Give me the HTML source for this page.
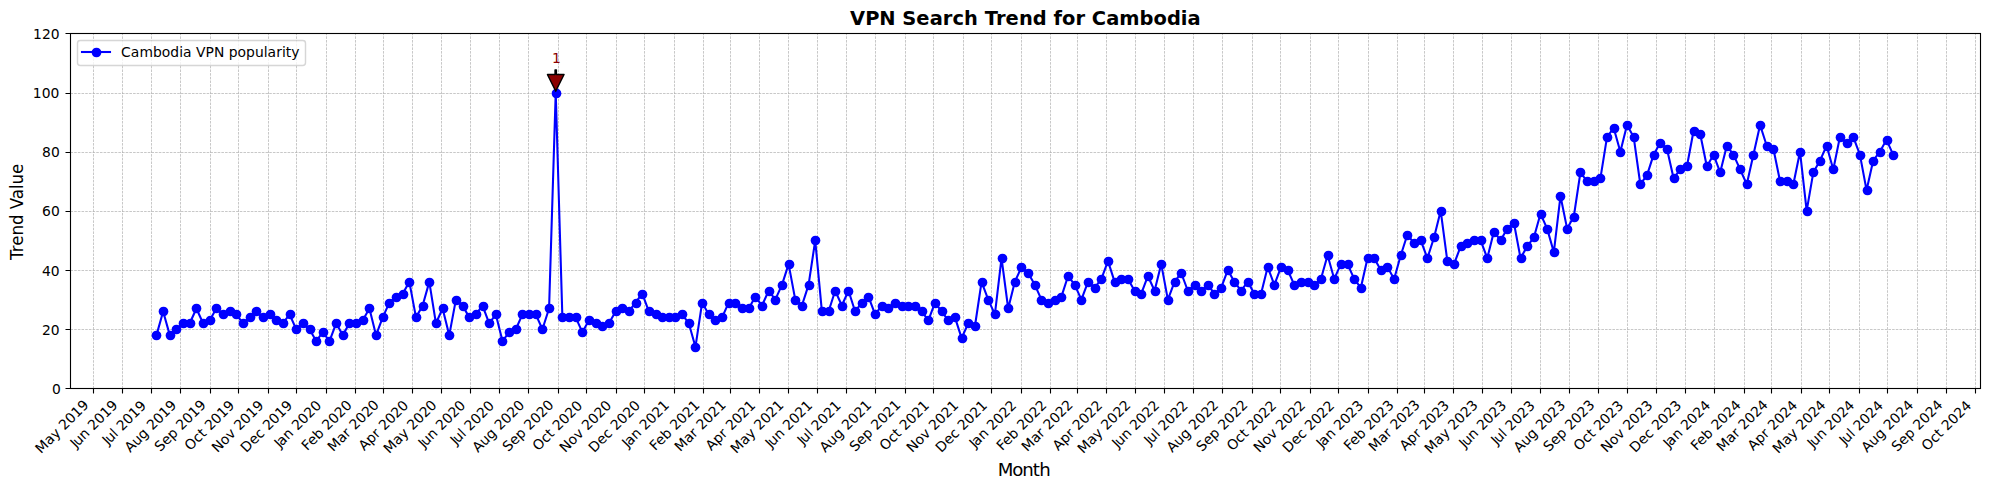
<!DOCTYPE html>
<html lang="en"><head><meta charset="utf-8"><title>VPN Search Trend for Cambodia</title>
<style>html,body{margin:0;padding:0;background:#fff}body{width:1990px;height:490px;overflow:hidden}svg{display:block}</style>
</head><body>
<svg width="1990" height="490" viewBox="0 0 1990 490">
<rect width="1990" height="490" fill="#fff"/>
<defs><clipPath id="c"><rect x="69.653" y="33.333" width="1910.347" height="355.053"/></clipPath></defs>
<g clip-path="url(#c)"><path d="M93.5 388.5V33.5M122.5 388.5V33.5M151.5 388.5V33.5M180.5 388.5V33.5M210.5 388.5V33.5M238.5 388.5V33.5M268.5 388.5V33.5M296.5 388.5V33.5M326.5 388.5V33.5M355.5 388.5V33.5M383.5 388.5V33.5M412.5 388.5V33.5M441.5 388.5V33.5M470.5 388.5V33.5M499.5 388.5V33.5M528.5 388.5V33.5M558.5 388.5V33.5M586.5 388.5V33.5M616.5 388.5V33.5M644.5 388.5V33.5M674.5 388.5V33.5M703.5 388.5V33.5M730.5 388.5V33.5M759.5 388.5V33.5M788.5 388.5V33.5M817.5 388.5V33.5M846.5 388.5V33.5M875.5 388.5V33.5M905.5 388.5V33.5M933.5 388.5V33.5M963.5 388.5V33.5M991.5 388.5V33.5M1021.5 388.5V33.5M1050.5 388.5V33.5M1077.5 388.5V33.5M1106.5 388.5V33.5M1135.5 388.5V33.5M1164.5 388.5V33.5M1193.5 388.5V33.5M1222.5 388.5V33.5M1252.5 388.5V33.5M1280.5 388.5V33.5M1310.5 388.5V33.5M1338.5 388.5V33.5M1368.5 388.5V33.5M1397.5 388.5V33.5M1424.5 388.5V33.5M1453.5 388.5V33.5M1482.5 388.5V33.5M1511.5 388.5V33.5M1540.5 388.5V33.5M1569.5 388.5V33.5M1598.5 388.5V33.5M1627.5 388.5V33.5M1656.5 388.5V33.5M1685.5 388.5V33.5M1714.5 388.5V33.5M1744.5 388.5V33.5M1771.5 388.5V33.5M1801.5 388.5V33.5M1829.5 388.5V33.5M1859.5 388.5V33.5M1887.5 388.5V33.5M1917.5 388.5V33.5M1946.5 388.5V33.5M1975.5 388.5V33.5" fill="none" stroke="#b0b0b0" stroke-width="0.694" stroke-dasharray="2.569 1.111"/>
<path d="M70.5 388.5H1980.5M70.5 329.5H1980.5M70.5 270.5H1980.5M70.5 211.5H1980.5M70.5 152.5H1980.5M70.5 93.5H1980.5M70.5 33.5H1980.5" fill="none" stroke="#b0b0b0" stroke-width="0.694" stroke-dasharray="2.569 1.111"/></g>
<path d="M93.5 388.5v5M122.5 388.5v5M151.5 388.5v5M180.5 388.5v5M210.5 388.5v5M238.5 388.5v5M268.5 388.5v5M296.5 388.5v5M326.5 388.5v5M355.5 388.5v5M383.5 388.5v5M412.5 388.5v5M441.5 388.5v5M470.5 388.5v5M499.5 388.5v5M528.5 388.5v5M558.5 388.5v5M586.5 388.5v5M616.5 388.5v5M644.5 388.5v5M674.5 388.5v5M703.5 388.5v5M730.5 388.5v5M759.5 388.5v5M788.5 388.5v5M817.5 388.5v5M846.5 388.5v5M875.5 388.5v5M905.5 388.5v5M933.5 388.5v5M963.5 388.5v5M991.5 388.5v5M1021.5 388.5v5M1050.5 388.5v5M1077.5 388.5v5M1106.5 388.5v5M1135.5 388.5v5M1164.5 388.5v5M1193.5 388.5v5M1222.5 388.5v5M1252.5 388.5v5M1280.5 388.5v5M1310.5 388.5v5M1338.5 388.5v5M1368.5 388.5v5M1397.5 388.5v5M1424.5 388.5v5M1453.5 388.5v5M1482.5 388.5v5M1511.5 388.5v5M1540.5 388.5v5M1569.5 388.5v5M1598.5 388.5v5M1627.5 388.5v5M1656.5 388.5v5M1685.5 388.5v5M1714.5 388.5v5M1744.5 388.5v5M1771.5 388.5v5M1801.5 388.5v5M1829.5 388.5v5M1859.5 388.5v5M1887.5 388.5v5M1917.5 388.5v5M1946.5 388.5v5M1975.5 388.5v5M70.5 388.5h-5M70.5 329.5h-5M70.5 270.5h-5M70.5 211.5h-5M70.5 152.5h-5M70.5 93.5h-5M70.5 33.5h-5" fill="none" stroke="#000" stroke-width="1.111"/>
<g clip-path="url(#c)"><path d="M156.487 335.128 L163.141 311.458 L169.795 335.128 L183.103 323.293 L189.756 323.293 L196.41 308.499 L203.064 323.293 L209.718 320.334 L216.372 308.499 L223.026 314.417 L229.68 311.458 L236.334 314.417 L242.988 323.293 L256.296 311.458 L262.95 317.375 L269.604 314.417 L276.258 320.334 L282.912 323.293 L289.566 314.417 L296.22 329.21 L302.874 323.293 L309.527 329.21 L316.181 341.046 L322.835 332.169 L329.489 341.046 L336.143 323.293 L342.797 335.128 L349.451 323.293 L356.105 323.293 L362.759 320.334 L369.413 308.499 L376.067 335.128 L382.721 317.375 L389.375 302.582 L396.029 296.664 L402.683 293.705 L409.337 281.87 L415.991 317.375 L422.644 305.54 L429.298 281.87 L435.952 323.293 L442.606 308.499 L449.26 335.128 L455.914 299.623 L462.568 305.54 L469.222 317.375 L475.876 314.417 L482.53 305.54 L489.184 323.293 L495.838 314.417 L502.492 341.046 L509.146 332.169 L515.8 329.21 L522.454 314.417 L535.762 314.417 L542.415 329.21 L549.069 308.499 L555.723 92.509 L562.377 317.375 L575.685 317.375 L582.339 332.169 L588.993 320.334 L602.301 326.252 L608.955 323.293 L615.609 311.458 L622.263 308.499 L628.917 311.458 L642.225 293.705 L648.879 311.458 L662.186 317.375 L675.494 317.375 L682.148 314.417 L688.802 323.293 L695.456 346.963 L702.11 302.582 L708.764 314.417 L715.418 320.334 L722.072 317.375 L728.726 302.582 L735.38 302.582 L742.034 308.499 L748.688 308.499 L755.342 296.664 L761.996 305.54 L768.65 290.746 L775.304 299.623 L781.957 284.829 L788.611 264.118 L795.265 299.623 L801.919 305.54 L808.573 284.829 L815.227 240.447 L821.881 311.458 L828.535 311.458 L835.189 290.746 L841.843 305.54 L848.497 290.746 L855.151 311.458 L861.805 302.582 L868.459 296.664 L875.113 314.417 L881.767 305.54 L888.421 308.499 L895.074 302.582 L901.728 305.54 L915.036 305.54 L921.69 311.458 L928.344 320.334 L934.998 302.582 L948.306 320.334 L954.96 317.375 L961.614 338.087 L968.268 323.293 L974.922 326.252 L981.576 281.87 L988.23 299.623 L994.884 314.417 L1001.538 258.2 L1008.192 308.499 L1014.845 281.87 L1021.499 267.076 L1028.153 272.994 L1034.807 284.829 L1041.461 299.623 L1048.115 302.582 L1061.423 296.664 L1068.077 275.953 L1074.731 284.829 L1081.385 299.623 L1088.039 281.87 L1094.693 287.788 L1101.347 278.911 L1108.001 261.159 L1114.655 281.87 L1121.309 278.911 L1127.963 278.911 L1134.616 290.746 L1141.27 293.705 L1147.924 275.953 L1154.578 290.746 L1161.232 264.118 L1167.886 299.623 L1174.54 281.87 L1181.194 272.994 L1187.848 290.746 L1194.502 284.829 L1201.156 290.746 L1207.81 284.829 L1214.464 293.705 L1221.118 287.788 L1227.772 270.035 L1234.426 281.87 L1241.08 290.746 L1247.734 281.87 L1254.387 293.705 L1261.041 293.705 L1267.695 267.076 L1274.349 284.829 L1281.003 267.076 L1287.657 270.035 L1294.311 284.829 L1300.965 281.87 L1307.619 281.87 L1314.273 284.829 L1320.927 278.911 L1327.581 255.241 L1334.235 278.911 L1340.889 264.118 L1347.543 264.118 L1354.197 278.911 L1360.851 287.788 L1367.504 258.2 L1374.158 258.2 L1380.812 270.035 L1387.466 267.076 L1394.12 278.911 L1400.774 255.241 L1407.428 234.53 L1414.082 243.406 L1420.736 240.447 L1427.39 258.2 L1434.044 237.489 L1440.698 210.86 L1447.352 261.159 L1454.006 264.118 L1460.66 246.365 L1473.968 240.447 L1480.622 240.447 L1487.275 258.2 L1493.929 231.571 L1500.583 240.447 L1507.237 228.612 L1513.891 222.695 L1520.545 258.2 L1527.199 246.365 L1533.853 237.489 L1540.507 213.818 L1547.161 228.612 L1553.815 252.282 L1560.469 196.066 L1567.123 228.612 L1573.777 216.777 L1580.431 172.396 L1587.085 181.272 L1593.739 181.272 L1600.393 178.313 L1607.046 136.89 L1613.7 128.014 L1620.354 151.684 L1627.008 125.055 L1633.662 136.89 L1640.316 184.231 L1646.97 175.354 L1653.624 154.643 L1660.278 142.808 L1666.932 148.725 L1673.586 178.313 L1680.24 169.437 L1686.894 166.478 L1693.548 130.973 L1700.202 133.932 L1706.856 166.478 L1713.51 154.643 L1720.164 172.396 L1726.817 145.767 L1733.471 154.643 L1746.779 184.231 L1760.087 125.055 L1766.741 145.767 L1773.395 148.725 L1780.049 181.272 L1786.703 181.272 L1793.357 184.231 L1800.011 151.684 L1806.665 210.86 L1813.319 172.396 L1819.973 160.561 L1826.627 145.767 L1833.281 169.437 L1839.934 136.89 L1846.588 142.808 L1853.242 136.89 L1859.896 154.643 L1866.55 190.148 L1873.204 160.561 L1879.858 151.684 L1886.512 139.849 L1893.166 154.643 L1893.166 154.643" fill="none" stroke="#00f" stroke-width="2.083" stroke-linejoin="round" stroke-linecap="square"/>
<g fill="#00f"><circle cx="156.5" cy="335.5" r="4.861"/><circle cx="163.5" cy="311.5" r="4.861"/><circle cx="170.5" cy="335.5" r="4.861"/><circle cx="176.5" cy="329.5" r="4.861"/><circle cx="183.5" cy="323.5" r="4.861"/><circle cx="190.5" cy="323.5" r="4.861"/><circle cx="196.5" cy="308.5" r="4.861"/><circle cx="203.5" cy="323.5" r="4.861"/><circle cx="210.5" cy="320.5" r="4.861"/><circle cx="216.5" cy="308.5" r="4.861"/><circle cx="223.5" cy="314.5" r="4.861"/><circle cx="230.5" cy="311.5" r="4.861"/><circle cx="236.5" cy="314.5" r="4.861"/><circle cx="243.5" cy="323.5" r="4.861"/><circle cx="250.5" cy="317.5" r="4.861"/><circle cx="256.5" cy="311.5" r="4.861"/><circle cx="263.5" cy="317.5" r="4.861"/><circle cx="270.5" cy="314.5" r="4.861"/><circle cx="276.5" cy="320.5" r="4.861"/><circle cx="283.5" cy="323.5" r="4.861"/><circle cx="290.5" cy="314.5" r="4.861"/><circle cx="296.5" cy="329.5" r="4.861"/><circle cx="303.5" cy="323.5" r="4.861"/><circle cx="310.5" cy="329.5" r="4.861"/><circle cx="316.5" cy="341.5" r="4.861"/><circle cx="323.5" cy="332.5" r="4.861"/><circle cx="329.5" cy="341.5" r="4.861"/><circle cx="336.5" cy="323.5" r="4.861"/><circle cx="343.5" cy="335.5" r="4.861"/><circle cx="349.5" cy="323.5" r="4.861"/><circle cx="356.5" cy="323.5" r="4.861"/><circle cx="363.5" cy="320.5" r="4.861"/><circle cx="369.5" cy="308.5" r="4.861"/><circle cx="376.5" cy="335.5" r="4.861"/><circle cx="383.5" cy="317.5" r="4.861"/><circle cx="389.5" cy="303.5" r="4.861"/><circle cx="396.5" cy="297.5" r="4.861"/><circle cx="403.5" cy="294.5" r="4.861"/><circle cx="409.5" cy="282.5" r="4.861"/><circle cx="416.5" cy="317.5" r="4.861"/><circle cx="423.5" cy="306.5" r="4.861"/><circle cx="429.5" cy="282.5" r="4.861"/><circle cx="436.5" cy="323.5" r="4.861"/><circle cx="443.5" cy="308.5" r="4.861"/><circle cx="449.5" cy="335.5" r="4.861"/><circle cx="456.5" cy="300.5" r="4.861"/><circle cx="463.5" cy="306.5" r="4.861"/><circle cx="469.5" cy="317.5" r="4.861"/><circle cx="476.5" cy="314.5" r="4.861"/><circle cx="483.5" cy="306.5" r="4.861"/><circle cx="489.5" cy="323.5" r="4.861"/><circle cx="496.5" cy="314.5" r="4.861"/><circle cx="502.5" cy="341.5" r="4.861"/><circle cx="509.5" cy="332.5" r="4.861"/><circle cx="516.5" cy="329.5" r="4.861"/><circle cx="522.5" cy="314.5" r="4.861"/><circle cx="529.5" cy="314.5" r="4.861"/><circle cx="536.5" cy="314.5" r="4.861"/><circle cx="542.5" cy="329.5" r="4.861"/><circle cx="549.5" cy="308.5" r="4.861"/><circle cx="556.5" cy="93.5" r="4.861"/><circle cx="562.5" cy="317.5" r="4.861"/><circle cx="569.5" cy="317.5" r="4.861"/><circle cx="576.5" cy="317.5" r="4.861"/><circle cx="582.5" cy="332.5" r="4.861"/><circle cx="589.5" cy="320.5" r="4.861"/><circle cx="596.5" cy="323.5" r="4.861"/><circle cx="602.5" cy="326.5" r="4.861"/><circle cx="609.5" cy="323.5" r="4.861"/><circle cx="616.5" cy="311.5" r="4.861"/><circle cx="622.5" cy="308.5" r="4.861"/><circle cx="629.5" cy="311.5" r="4.861"/><circle cx="636.5" cy="303.5" r="4.861"/><circle cx="642.5" cy="294.5" r="4.861"/><circle cx="649.5" cy="311.5" r="4.861"/><circle cx="656.5" cy="314.5" r="4.861"/><circle cx="662.5" cy="317.5" r="4.861"/><circle cx="669.5" cy="317.5" r="4.861"/><circle cx="675.5" cy="317.5" r="4.861"/><circle cx="682.5" cy="314.5" r="4.861"/><circle cx="689.5" cy="323.5" r="4.861"/><circle cx="695.5" cy="347.5" r="4.861"/><circle cx="702.5" cy="303.5" r="4.861"/><circle cx="709.5" cy="314.5" r="4.861"/><circle cx="715.5" cy="320.5" r="4.861"/><circle cx="722.5" cy="317.5" r="4.861"/><circle cx="729.5" cy="303.5" r="4.861"/><circle cx="735.5" cy="303.5" r="4.861"/><circle cx="742.5" cy="308.5" r="4.861"/><circle cx="749.5" cy="308.5" r="4.861"/><circle cx="755.5" cy="297.5" r="4.861"/><circle cx="762.5" cy="306.5" r="4.861"/><circle cx="769.5" cy="291.5" r="4.861"/><circle cx="775.5" cy="300.5" r="4.861"/><circle cx="782.5" cy="285.5" r="4.861"/><circle cx="789.5" cy="264.5" r="4.861"/><circle cx="795.5" cy="300.5" r="4.861"/><circle cx="802.5" cy="306.5" r="4.861"/><circle cx="809.5" cy="285.5" r="4.861"/><circle cx="815.5" cy="240.5" r="4.861"/><circle cx="822.5" cy="311.5" r="4.861"/><circle cx="829.5" cy="311.5" r="4.861"/><circle cx="835.5" cy="291.5" r="4.861"/><circle cx="842.5" cy="306.5" r="4.861"/><circle cx="848.5" cy="291.5" r="4.861"/><circle cx="855.5" cy="311.5" r="4.861"/><circle cx="862.5" cy="303.5" r="4.861"/><circle cx="868.5" cy="297.5" r="4.861"/><circle cx="875.5" cy="314.5" r="4.861"/><circle cx="882.5" cy="306.5" r="4.861"/><circle cx="888.5" cy="308.5" r="4.861"/><circle cx="895.5" cy="303.5" r="4.861"/><circle cx="902.5" cy="306.5" r="4.861"/><circle cx="908.5" cy="306.5" r="4.861"/><circle cx="915.5" cy="306.5" r="4.861"/><circle cx="922.5" cy="311.5" r="4.861"/><circle cx="928.5" cy="320.5" r="4.861"/><circle cx="935.5" cy="303.5" r="4.861"/><circle cx="942.5" cy="311.5" r="4.861"/><circle cx="948.5" cy="320.5" r="4.861"/><circle cx="955.5" cy="317.5" r="4.861"/><circle cx="962.5" cy="338.5" r="4.861"/><circle cx="968.5" cy="323.5" r="4.861"/><circle cx="975.5" cy="326.5" r="4.861"/><circle cx="982.5" cy="282.5" r="4.861"/><circle cx="988.5" cy="300.5" r="4.861"/><circle cx="995.5" cy="314.5" r="4.861"/><circle cx="1002.5" cy="258.5" r="4.861"/><circle cx="1008.5" cy="308.5" r="4.861"/><circle cx="1015.5" cy="282.5" r="4.861"/><circle cx="1021.5" cy="267.5" r="4.861"/><circle cx="1028.5" cy="273.5" r="4.861"/><circle cx="1035.5" cy="285.5" r="4.861"/><circle cx="1041.5" cy="300.5" r="4.861"/><circle cx="1048.5" cy="303.5" r="4.861"/><circle cx="1055.5" cy="300.5" r="4.861"/><circle cx="1061.5" cy="297.5" r="4.861"/><circle cx="1068.5" cy="276.5" r="4.861"/><circle cx="1075.5" cy="285.5" r="4.861"/><circle cx="1081.5" cy="300.5" r="4.861"/><circle cx="1088.5" cy="282.5" r="4.861"/><circle cx="1095.5" cy="288.5" r="4.861"/><circle cx="1101.5" cy="279.5" r="4.861"/><circle cx="1108.5" cy="261.5" r="4.861"/><circle cx="1115.5" cy="282.5" r="4.861"/><circle cx="1121.5" cy="279.5" r="4.861"/><circle cx="1128.5" cy="279.5" r="4.861"/><circle cx="1135.5" cy="291.5" r="4.861"/><circle cx="1141.5" cy="294.5" r="4.861"/><circle cx="1148.5" cy="276.5" r="4.861"/><circle cx="1155.5" cy="291.5" r="4.861"/><circle cx="1161.5" cy="264.5" r="4.861"/><circle cx="1168.5" cy="300.5" r="4.861"/><circle cx="1175.5" cy="282.5" r="4.861"/><circle cx="1181.5" cy="273.5" r="4.861"/><circle cx="1188.5" cy="291.5" r="4.861"/><circle cx="1195.5" cy="285.5" r="4.861"/><circle cx="1201.5" cy="291.5" r="4.861"/><circle cx="1208.5" cy="285.5" r="4.861"/><circle cx="1214.5" cy="294.5" r="4.861"/><circle cx="1221.5" cy="288.5" r="4.861"/><circle cx="1228.5" cy="270.5" r="4.861"/><circle cx="1234.5" cy="282.5" r="4.861"/><circle cx="1241.5" cy="291.5" r="4.861"/><circle cx="1248.5" cy="282.5" r="4.861"/><circle cx="1254.5" cy="294.5" r="4.861"/><circle cx="1261.5" cy="294.5" r="4.861"/><circle cx="1268.5" cy="267.5" r="4.861"/><circle cx="1274.5" cy="285.5" r="4.861"/><circle cx="1281.5" cy="267.5" r="4.861"/><circle cx="1288.5" cy="270.5" r="4.861"/><circle cx="1294.5" cy="285.5" r="4.861"/><circle cx="1301.5" cy="282.5" r="4.861"/><circle cx="1308.5" cy="282.5" r="4.861"/><circle cx="1314.5" cy="285.5" r="4.861"/><circle cx="1321.5" cy="279.5" r="4.861"/><circle cx="1328.5" cy="255.5" r="4.861"/><circle cx="1334.5" cy="279.5" r="4.861"/><circle cx="1341.5" cy="264.5" r="4.861"/><circle cx="1348.5" cy="264.5" r="4.861"/><circle cx="1354.5" cy="279.5" r="4.861"/><circle cx="1361.5" cy="288.5" r="4.861"/><circle cx="1368.5" cy="258.5" r="4.861"/><circle cx="1374.5" cy="258.5" r="4.861"/><circle cx="1381.5" cy="270.5" r="4.861"/><circle cx="1387.5" cy="267.5" r="4.861"/><circle cx="1394.5" cy="279.5" r="4.861"/><circle cx="1401.5" cy="255.5" r="4.861"/><circle cx="1407.5" cy="235.5" r="4.861"/><circle cx="1414.5" cy="243.5" r="4.861"/><circle cx="1421.5" cy="240.5" r="4.861"/><circle cx="1427.5" cy="258.5" r="4.861"/><circle cx="1434.5" cy="237.5" r="4.861"/><circle cx="1441.5" cy="211.5" r="4.861"/><circle cx="1447.5" cy="261.5" r="4.861"/><circle cx="1454.5" cy="264.5" r="4.861"/><circle cx="1461.5" cy="246.5" r="4.861"/><circle cx="1467.5" cy="243.5" r="4.861"/><circle cx="1474.5" cy="240.5" r="4.861"/><circle cx="1481.5" cy="240.5" r="4.861"/><circle cx="1487.5" cy="258.5" r="4.861"/><circle cx="1494.5" cy="232.5" r="4.861"/><circle cx="1501.5" cy="240.5" r="4.861"/><circle cx="1507.5" cy="229.5" r="4.861"/><circle cx="1514.5" cy="223.5" r="4.861"/><circle cx="1521.5" cy="258.5" r="4.861"/><circle cx="1527.5" cy="246.5" r="4.861"/><circle cx="1534.5" cy="237.5" r="4.861"/><circle cx="1541.5" cy="214.5" r="4.861"/><circle cx="1547.5" cy="229.5" r="4.861"/><circle cx="1554.5" cy="252.5" r="4.861"/><circle cx="1560.5" cy="196.5" r="4.861"/><circle cx="1567.5" cy="229.5" r="4.861"/><circle cx="1574.5" cy="217.5" r="4.861"/><circle cx="1580.5" cy="172.5" r="4.861"/><circle cx="1587.5" cy="181.5" r="4.861"/><circle cx="1594.5" cy="181.5" r="4.861"/><circle cx="1600.5" cy="178.5" r="4.861"/><circle cx="1607.5" cy="137.5" r="4.861"/><circle cx="1614.5" cy="128.5" r="4.861"/><circle cx="1620.5" cy="152.5" r="4.861"/><circle cx="1627.5" cy="125.5" r="4.861"/><circle cx="1634.5" cy="137.5" r="4.861"/><circle cx="1640.5" cy="184.5" r="4.861"/><circle cx="1647.5" cy="175.5" r="4.861"/><circle cx="1654.5" cy="155.5" r="4.861"/><circle cx="1660.5" cy="143.5" r="4.861"/><circle cx="1667.5" cy="149.5" r="4.861"/><circle cx="1674.5" cy="178.5" r="4.861"/><circle cx="1680.5" cy="169.5" r="4.861"/><circle cx="1687.5" cy="166.5" r="4.861"/><circle cx="1694.5" cy="131.5" r="4.861"/><circle cx="1700.5" cy="134.5" r="4.861"/><circle cx="1707.5" cy="166.5" r="4.861"/><circle cx="1714.5" cy="155.5" r="4.861"/><circle cx="1720.5" cy="172.5" r="4.861"/><circle cx="1727.5" cy="146.5" r="4.861"/><circle cx="1733.5" cy="155.5" r="4.861"/><circle cx="1740.5" cy="169.5" r="4.861"/><circle cx="1747.5" cy="184.5" r="4.861"/><circle cx="1753.5" cy="155.5" r="4.861"/><circle cx="1760.5" cy="125.5" r="4.861"/><circle cx="1767.5" cy="146.5" r="4.861"/><circle cx="1773.5" cy="149.5" r="4.861"/><circle cx="1780.5" cy="181.5" r="4.861"/><circle cx="1787.5" cy="181.5" r="4.861"/><circle cx="1793.5" cy="184.5" r="4.861"/><circle cx="1800.5" cy="152.5" r="4.861"/><circle cx="1807.5" cy="211.5" r="4.861"/><circle cx="1813.5" cy="172.5" r="4.861"/><circle cx="1820.5" cy="161.5" r="4.861"/><circle cx="1827.5" cy="146.5" r="4.861"/><circle cx="1833.5" cy="169.5" r="4.861"/><circle cx="1840.5" cy="137.5" r="4.861"/><circle cx="1847.5" cy="143.5" r="4.861"/><circle cx="1853.5" cy="137.5" r="4.861"/><circle cx="1860.5" cy="155.5" r="4.861"/><circle cx="1867.5" cy="190.5" r="4.861"/><circle cx="1873.5" cy="161.5" r="4.861"/><circle cx="1880.5" cy="152.5" r="4.861"/><circle cx="1887.5" cy="140.5" r="4.861"/><circle cx="1893.5" cy="155.5" r="4.861"/></g></g>
<rect x="70.5" y="33.5" width="1910" height="355" fill="none" stroke="#000" stroke-width="1.111"/>
<path d="M 556.418 69.93 Q 556.418 72.214 556.418 74.498 L 564.057 74.498 Q 559.89 82.834 555.723 91.169 Q 551.557 82.834 547.39 74.498 L 555.029 74.498 Q 555.029 72.214 555.029 69.93 L 556.418 69.93 z" fill="#8b0000" stroke="#000" stroke-width="1.389" stroke-linejoin="round"/>
<rect x="77.5" y="40.5" width="228" height="25" rx="2.78" fill="#fff" stroke="#ccc" stroke-width="1.389" opacity="0.8"/>
<path d="M82 52H110" stroke="#00f" stroke-width="2.083" stroke-linecap="square"/>
<circle cx="96.5" cy="52.5" r="4.861" fill="#00f"/>
<g font-family="'DejaVu Sans', sans-serif" fill="#000">
<text font-size="13.889" transform="translate(41.086 454.241) rotate(-45)" x="0 12 20.625 28.875 33.25 42 50.75 59.625" y="0">May 2019</text>
<text font-size="13.889" transform="translate(76.013 448.531) rotate(-45)" x="0 3 11.75 20.5 24.875 33.625 42.375 51.25" y="0">Jun 2019</text>
<text font-size="13.889" transform="translate(108.026 445.536) rotate(-45)" x="0 3 11.75 15.625 20 28.75 37.5 46.375" y="0">Jul 2019</text>
<text font-size="13.889" transform="translate(130.166 453.113) rotate(-45)" x="0 9.5 18.25 27.125 31.5 40.25 49 57.875" y="0">Aug 2019</text>
<text font-size="13.889" transform="translate(160.298 452.198) rotate(-45)" x="0 8.75 17.25 26.125 30.5 39.25 48 56.875" y="0">Sep 2019</text>
<text font-size="13.889" transform="translate(190.346 451.167) rotate(-45)" x="0 10.875 18.5 24 28.375 37.125 45.875 54.75" y="0">Oct 2019</text>
<text font-size="13.889" transform="translate(217.376 453.355) rotate(-45)" x="0 10.375 18.875 27.125 31.5 40.25 49 57.875" y="0">Nov 2019</text>
<text font-size="13.889" transform="translate(246.307 453.191) rotate(-45)" x="0 10.75 19.25 26.875 31.25 40 48.75 57.625" y="0">Dec 2019</text>
<text font-size="13.889" transform="translate(279.89 448.576) rotate(-45)" x="0 3 11.625 20.375 24.75 33.5 42.25 51" y="0">Jan 2020</text>
<text font-size="13.889" transform="translate(307.36 451.322) rotate(-45)" x="0 7.25 15.75 24.625 29 37.75 46.5 55.25" y="0">Feb 2020</text>
<text font-size="13.889" transform="translate(333.284 452.215) rotate(-45)" x="0 12 20.625 26.375 30.75 39.5 48.25 57" y="0">Mar 2020</text>
<text font-size="13.889" transform="translate(364.29 451.176) rotate(-45)" x="0 9.5 18.375 24.125 28.5 37.25 46 54.75" y="0">Apr 2020</text>
<text font-size="13.889" transform="translate(389.243 454.241) rotate(-45)" x="0 12 20.625 28.875 33.25 42 50.75 59.5" y="0">May 2020</text>
<text font-size="13.889" transform="translate(423.92 448.531) rotate(-45)" x="0 3 11.75 20.5 24.875 33.625 42.375 51.125" y="0">Jun 2020</text>
<text font-size="13.889" transform="translate(455.932 445.536) rotate(-45)" x="0 3 11.75 15.625 20 28.75 37.5 46.25" y="0">Jul 2020</text>
<text font-size="13.889" transform="translate(478.072 453.113) rotate(-45)" x="0 9.5 18.25 27.125 31.5 40.25 49 57.75" y="0">Aug 2020</text>
<text font-size="13.889" transform="translate(508.204 452.198) rotate(-45)" x="0 8.75 17.25 26.125 30.5 39.25 48 56.75" y="0">Sep 2020</text>
<text font-size="13.889" transform="translate(538.252 451.417) rotate(-45)" x="0 10.875 18.5 24 28.375 37.125 45.875 54.625" y="0">Oct 2020</text>
<text font-size="13.889" transform="translate(565.282 453.355) rotate(-45)" x="0 10.375 18.875 27.125 31.5 40.25 49 57.75" y="0">Nov 2020</text>
<text font-size="13.889" transform="translate(594.213 453.191) rotate(-45)" x="0 10.75 19.25 26.875 31.25 40 48.75 57.5" y="0">Dec 2020</text>
<text font-size="13.889" transform="translate(627.796 448.326) rotate(-45)" x="0 3 11.625 20.375 24.75 33.5 42.25 51" y="0">Jan 2021</text>
<text font-size="13.889" transform="translate(655.267 451.322) rotate(-45)" x="0 7.25 15.75 24.625 29 37.75 46.5 55.25" y="0">Feb 2021</text>
<text font-size="13.889" transform="translate(680.239 452.215) rotate(-45)" x="0 12 20.625 26.375 30.75 39.5 48.25 57" y="0">Mar 2021</text>
<text font-size="13.889" transform="translate(711.246 451.176) rotate(-45)" x="0 9.5 18.375 24.125 28.5 37.25 46 54.75" y="0">Apr 2021</text>
<text font-size="13.889" transform="translate(736.198 454.241) rotate(-45)" x="0 12 20.625 28.875 33.25 42 50.75 59.5" y="0">May 2021</text>
<text font-size="13.889" transform="translate(770.875 448.531) rotate(-45)" x="0 3 11.75 20.5 24.875 33.625 42.375 51.125" y="0">Jun 2021</text>
<text font-size="13.889" transform="translate(802.888 445.536) rotate(-45)" x="0 3 11.75 15.625 20 28.75 37.5 46.25" y="0">Jul 2021</text>
<text font-size="13.889" transform="translate(825.278 453.113) rotate(-45)" x="0 9.5 18.25 27.125 31.5 40.25 49 57.75" y="0">Aug 2021</text>
<text font-size="13.889" transform="translate(855.16 452.198) rotate(-45)" x="0 8.75 17.25 26.125 30.5 39.25 48 56.75" y="0">Sep 2021</text>
<text font-size="13.889" transform="translate(885.208 451.167) rotate(-45)" x="0 10.875 18.5 24 28.375 37.125 45.875 54.625" y="0">Oct 2021</text>
<text font-size="13.889" transform="translate(912.237 453.355) rotate(-45)" x="0 10.375 18.875 27.125 31.5 40.25 49 57.75" y="0">Nov 2021</text>
<text font-size="13.889" transform="translate(941.168 453.191) rotate(-45)" x="0 10.75 19.25 26.875 31.25 40 48.75 57.5" y="0">Dec 2021</text>
<text font-size="13.889" transform="translate(975.001 448.576) rotate(-45)" x="0 3 11.625 20.375 24.75 33.5 42.25 51" y="0">Jan 2022</text>
<text font-size="13.889" transform="translate(1002.222 451.322) rotate(-45)" x="0 7.25 15.75 24.625 29 37.75 46.5 55.25" y="0">Feb 2022</text>
<text font-size="13.889" transform="translate(1027.195 452.215) rotate(-45)" x="0 12 20.625 26.375 30.75 39.5 48.25 57" y="0">Mar 2022</text>
<text font-size="13.889" transform="translate(1058.201 451.176) rotate(-45)" x="0 9.5 18.375 24.125 28.5 37.25 46 54.75" y="0">Apr 2022</text>
<text font-size="13.889" transform="translate(1083.154 454.241) rotate(-45)" x="0 12 20.625 28.875 33.25 42 50.75 59.5" y="0">May 2022</text>
<text font-size="13.889" transform="translate(1117.831 448.531) rotate(-45)" x="0 3 11.75 20.5 24.875 33.625 42.375 51.125" y="0">Jun 2022</text>
<text font-size="13.889" transform="translate(1149.843 445.536) rotate(-45)" x="0 3 11.75 15.625 20 28.75 37.5 46.25" y="0">Jul 2022</text>
<text font-size="13.889" transform="translate(1172.233 453.113) rotate(-45)" x="0 9.5 18.25 27.125 31.5 40.25 49 57.75" y="0">Aug 2022</text>
<text font-size="13.889" transform="translate(1202.115 452.198) rotate(-45)" x="0 8.75 17.25 26.125 30.5 39.25 48 56.75" y="0">Sep 2022</text>
<text font-size="13.889" transform="translate(1232.414 451.417) rotate(-45)" x="0 10.875 18.5 24 28.375 37.125 45.875 54.625" y="0">Oct 2022</text>
<text font-size="13.889" transform="translate(1259.193 453.355) rotate(-45)" x="0 10.375 18.875 27.125 31.5 40.25 49 57.75" y="0">Nov 2022</text>
<text font-size="13.889" transform="translate(1288.374 453.441) rotate(-45)" x="0 10.75 19.25 26.875 31.25 40 48.75 57.5" y="0">Dec 2022</text>
<text font-size="13.889" transform="translate(1321.957 448.576) rotate(-45)" x="0 3 11.625 20.375 24.75 33.5 42.25 51" y="0">Jan 2023</text>
<text font-size="13.889" transform="translate(1349.428 451.322) rotate(-45)" x="0 7.25 15.75 24.625 29 37.75 46.5 55.25" y="0">Feb 2023</text>
<text font-size="13.889" transform="translate(1374.15 452.215) rotate(-45)" x="0 12 20.625 26.375 30.75 39.5 48.25 57" y="0">Mar 2023</text>
<text font-size="13.889" transform="translate(1405.157 451.176) rotate(-45)" x="0 9.5 18.375 24.125 28.5 37.25 46 54.75" y="0">Apr 2023</text>
<text font-size="13.889" transform="translate(1430.359 454.241) rotate(-45)" x="0 12 20.625 28.875 33.25 42 50.75 59.5" y="0">May 2023</text>
<text font-size="13.889" transform="translate(1464.786 448.531) rotate(-45)" x="0 3 11.75 20.5 24.875 33.625 42.375 51.125" y="0">Jun 2023</text>
<text font-size="13.889" transform="translate(1496.799 445.536) rotate(-45)" x="0 3 11.75 15.625 20 28.75 37.5 46.25" y="0">Jul 2023</text>
<text font-size="13.889" transform="translate(1519.189 453.113) rotate(-45)" x="0 9.5 18.25 27.125 31.5 40.25 49 57.75" y="0">Aug 2023</text>
<text font-size="13.889" transform="translate(1549.071 452.198) rotate(-45)" x="0 8.75 17.25 26.125 30.5 39.25 48 56.75" y="0">Sep 2023</text>
<text font-size="13.889" transform="translate(1579.369 451.417) rotate(-45)" x="0 10.875 18.5 24 28.375 37.125 45.875 54.625" y="0">Oct 2023</text>
<text font-size="13.889" transform="translate(1606.399 453.355) rotate(-45)" x="0 10.375 18.875 27.125 31.5 40.25 49 57.75" y="0">Nov 2023</text>
<text font-size="13.889" transform="translate(1635.33 453.191) rotate(-45)" x="0 10.75 19.25 26.875 31.25 40 48.75 57.5" y="0">Dec 2023</text>
<text font-size="13.889" transform="translate(1668.913 448.576) rotate(-45)" x="0 3 11.625 20.375 24.75 33.5 42.25 51" y="0">Jan 2024</text>
<text font-size="13.889" transform="translate(1696.384 451.322) rotate(-45)" x="0 7.25 15.75 24.625 29 37.75 46.5 55.25" y="0">Feb 2024</text>
<text font-size="13.889" transform="translate(1722.307 452.215) rotate(-45)" x="0 12 20.625 26.375 30.75 39.5 48.25 57" y="0">Mar 2024</text>
<text font-size="13.889" transform="translate(1753.313 451.176) rotate(-45)" x="0 9.5 18.375 24.125 28.5 37.25 46 54.75" y="0">Apr 2024</text>
<text font-size="13.889" transform="translate(1778.266 454.241) rotate(-45)" x="0 12 20.625 28.875 33.25 42 50.75 59.5" y="0">May 2024</text>
<text font-size="13.889" transform="translate(1812.943 448.531) rotate(-45)" x="0 3 11.75 20.5 24.875 33.625 42.375 51.125" y="0">Jun 2024</text>
<text font-size="13.889" transform="translate(1844.955 445.536) rotate(-45)" x="0 3 11.75 15.625 20 28.75 37.5 46.25" y="0">Jul 2024</text>
<text font-size="13.889" transform="translate(1867.095 453.113) rotate(-45)" x="0 9.5 18.25 27.125 31.5 40.25 49 57.75" y="0">Aug 2024</text>
<text font-size="13.889" transform="translate(1897.227 452.198) rotate(-45)" x="0 8.75 17.25 26.125 30.5 39.25 48 56.75" y="0">Sep 2024</text>
<text font-size="13.889" transform="translate(1927.276 451.417) rotate(-45)" x="0 10.875 18.5 24 28.375 37.125 45.875 54.625" y="0">Oct 2024</text>
<text font-size="18.167" x="997.826 1012.201 1022.326 1032.826 1039.326" y="475.753">Month</text>
<text font-size="13.889" x="51.931" y="393.663">0</text>
<text font-size="13.889" x="41.931 50.681" y="334.737">20</text>
<text font-size="13.889" x="41.931 50.681" y="275.562">40</text>
<text font-size="13.889" x="42.056 50.931" y="215.636">60</text>
<text font-size="13.889" x="42.056 50.931" y="156.711">80</text>
<text font-size="13.889" x="32.806 41.681 50.431" y="97.535">100</text>
<text font-size="13.889" x="33.056 41.931 50.681" y="38.61">120</text>
<text font-size="16.667" transform="translate(22.898 211.86) rotate(-90) scale(1 1.1)" x="-48.188 -40.438 -33.938 -23.688 -13.188 -2.688 2.562 12.688 22.812 27.438 37.938" y="0">Trend Value</text>
<text font-size="13.889" fill="#8b0000" x="552.036" y="62.671">1</text>
<text font-size="19.444" font-weight="700" x="850.076 865.201 879.326 895.576 902.326 916.326 929.701 942.826 952.451 964.076 977.951 984.701 995.951 1005.576 1018.951 1032.826 1046.701 1053.451 1061.951 1075.451 1085.076 1091.826 1106.201 1119.326 1139.576 1153.451 1166.951 1180.826 1187.451" y="24.5">VPN Search Trend for Cambodia</text>
<text font-size="13.889" x="121.042 130.792 139.417 152.917 161.792 170.292 179.167 183.042 191.667 196.042 205.542 213.917 224.292 228.667 237.542 246.042 254.917 263.667 267.542 276.167 281.917 285.792 291.292" y="56.637">Cambodia VPN popularity</text>
</g>
</svg>
</body></html>
